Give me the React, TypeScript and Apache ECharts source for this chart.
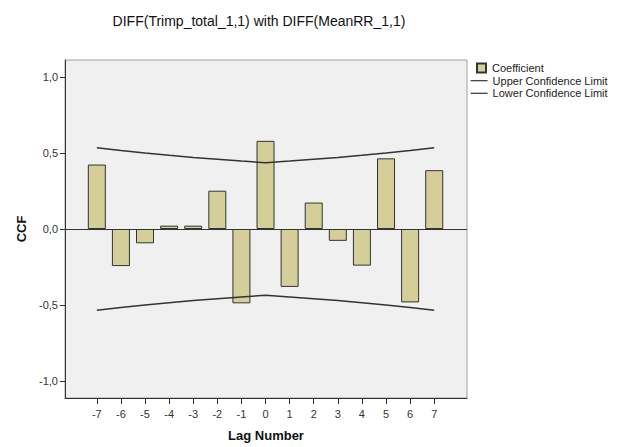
import React, { useEffect, useRef } from "react";
import * as echarts from "echarts";

const lags = [-7, -6, -5, -4, -3, -2, -1, 0, 1, 2, 3, 4, 5, 6, 7];
const coefficient = [0.424, -0.244, -0.094, 0.022, 0.022, 0.252, -0.489, 0.58, -0.381, 0.174, -0.078, -0.241, 0.465, -0.483, 0.387];
const upperLimit = [0.535, 0.516, 0.5, 0.485, 0.471, 0.459, 0.447, 0.436, 0.447, 0.459, 0.471, 0.485, 0.5, 0.516, 0.535];
const lowerLimit = [-0.535, -0.516, -0.5, -0.485, -0.471, -0.459, -0.447, -0.436, -0.447, -0.459, -0.471, -0.485, -0.5, -0.516, -0.535];
const yTicks = [-1, -0.5, 0, 0.5, 1];
const titleText = "DIFF(Trimp_total_1,1) with DIFF(MeanRR_1,1)";

const FONT = "'Liberation Sans', Arial, sans-serif";

export default function App() {
  const ref = useRef<HTMLDivElement>(null);
  useEffect(() => {
    if (!ref.current) return;
    const chart = echarts.init(ref.current, undefined, { renderer: "svg" });
    chart.setOption({
      animation: false,
      backgroundColor: "#ffffff",
      textStyle: { fontFamily: FONT },
      graphic: [
        {
          type: "text",
          x: 259,
          y: 21,
          style: {
            text: titleText,
            fontFamily: FONT,
            fontSize: 14,
            fill: "#111",
            textAlign: "center",
            textVerticalAlign: "middle",
          },
        },
      ],
      legend: [
        {
          orient: "vertical",
          left: 476,
          top: 62,
          itemWidth: 9,
          itemHeight: 9,
          padding: 0,
          data: [{ name: "Coefficient", icon: "rect" }],
          textStyle: { fontFamily: FONT, fontSize: 11, lineHeight: 12, color: "#222", padding: [0, 0, 0, 1] },
          selectedMode: false,
        },
        {
          orient: "vertical",
          left: 470,
          top: 74.7,
          itemWidth: 17,
          itemHeight: 10,
          itemGap: 0.6,
          padding: 0,
          data: ["Upper Confidence Limit", "Lower Confidence Limit"],
          itemStyle: { opacity: 0 },
          lineStyle: { width: 1.2 },
          textStyle: { fontFamily: FONT, fontSize: 11, lineHeight: 12, color: "#222" },
          selectedMode: false,
        },
      ],
      grid: {
        left: 65,
        top: 60,
        width: 402,
        height: 341,
        show: true,
        backgroundColor: "#f0f0f0",
        borderColor: "#a0a0a0",
        borderWidth: 1,
      },
      xAxis: {
        type: "value",
        min: -8.32,
        max: 8.36,
        name: "Lag Number",
        nameLocation: "middle",
        nameGap: 31,
        nameTextStyle: { fontFamily: FONT, fontSize: 13, fontWeight: "bold", color: "#111" },
        axisLine: { show: true, onZero: false, lineStyle: { color: "#333", width: 1 } },
        axisTick: { show: true, length: 6, customValues: lags, lineStyle: { color: "#333" } },
        axisLabel: {
          customValues: lags,
          margin: 10,
          fontSize: 11,
          color: "#333",
          fontFamily: FONT,
        },
        splitLine: { show: false },
      },
      yAxis: {
        type: "value",
        min: -1.112,
        max: 1.112,
        name: "CCF",
        nameLocation: "middle",
        nameGap: 37,
        nameTextStyle: { fontFamily: FONT, fontSize: 13, fontWeight: "bold", color: "#111" },
        axisLine: { show: true, onZero: false, lineStyle: { color: "#333", width: 1 } },
        axisTick: { show: true, length: 5, customValues: yTicks, lineStyle: { color: "#333" } },
        axisLabel: {
          customValues: yTicks,
          margin: 7,
          fontSize: 11,
          color: "#333",
          fontFamily: FONT,
          formatter: (v: number) => v.toFixed(1).replace(".", ","),
        },
        splitLine: { show: false },
      },
      series: [
        {
          name: "Coefficient",
          type: "bar",
          barWidth: 18,
          data: lags.map((l, i) => [l, coefficient[i]]),
          itemStyle: { color: "#d4cf98", borderColor: "#333", borderWidth: 1 },
          markLine: {
            silent: true,
            symbol: "none",
            label: { show: false },
            lineStyle: { color: "#333", width: 1, type: "solid" },
            data: [{ yAxis: 0 }],
          },
          z: 2,
        },
        {
          name: "Upper Confidence Limit",
          type: "line",
          symbol: "none",
          data: lags.map((l, i) => [l, upperLimit[i]]),
          lineStyle: { color: "#333", width: 1.5 },
          itemStyle: { color: "#333" },
          z: 3,
        },
        {
          name: "Lower Confidence Limit",
          type: "line",
          symbol: "none",
          data: lags.map((l, i) => [l, lowerLimit[i]]),
          lineStyle: { color: "#333", width: 1.5 },
          itemStyle: { color: "#333" },
          z: 3,
        },
      ],
    });
    return () => chart.dispose();
  }, []);
  return (
    <div
      ref={ref}
      style={{ position: "absolute", left: 0, top: 0, width: 622, height: 447 }}
    />
  );
}
